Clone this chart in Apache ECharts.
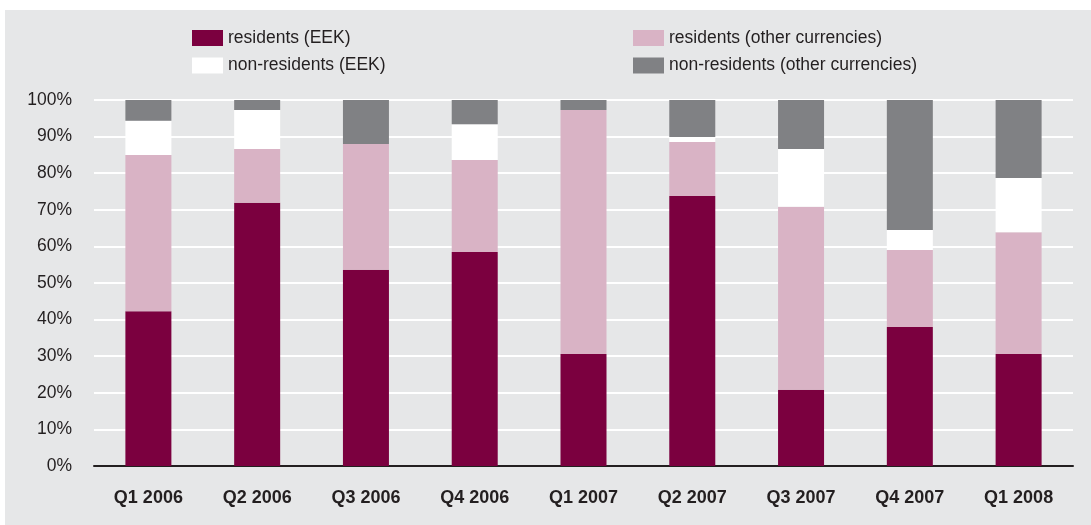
<!DOCTYPE html>
<html>
<head>
<meta charset="utf-8">
<script src="https://cdn.jsdelivr.net/npm/echarts@6/dist/echarts.min.js"></script>
<style>
  html, body { margin: 0; padding: 0; background: #ffffff; }
  #chart { position: absolute; left: 5px; top: 10px; width: 1086px; height: 515px; }
</style>
</head>
<body>
<div id="chart"></div>
<script>
const categories = ['Q1 2006', 'Q2 2006', 'Q3 2006', 'Q4 2006', 'Q1 2007', 'Q2 2007', 'Q3 2007', 'Q4 2007', 'Q1 2008'];
const residentsEEK   = [42.3, 71.9, 53.6, 58.5, 30.6, 73.8, 20.8, 38.0, 30.6];
const residentsOther = [42.7, 14.7, 34.4, 25.1, 66.7, 14.7, 50.0, 21.0, 33.3];
const nonResEEK      = [9.3, 10.7, 0.0, 9.8, 0.0, 1.4, 15.8, 5.5, 14.8];
const nonResOther    = [5.7, 2.7, 12.0, 6.6, 2.7, 10.1, 13.4, 35.5, 21.3];
const seriesNames = ['residents (EEK)', 'residents (other currencies)', 'non-residents (EEK)', 'non-residents (other currencies)'];

const FONT = '"Liberation Sans", Arial, Helvetica, sans-serif';
const chart = echarts.init(document.getElementById('chart'), null, { renderer: 'canvas' });

function bar(name, data, color) {
  return {
    name: name, type: 'bar', stack: 'total', data: data, barWidth: 46,
    itemStyle: { color: color }, emphasis: { disabled: true }
  };
}

const legendText = { fontSize: 17.5, color: '#231f20', fontFamily: FONT };

chart.setOption({
  backgroundColor: '#e6e7e8',
  animation: false,
  textStyle: { fontFamily: FONT },
  legend: [
    {
      left: 182, top: 14, orient: 'vertical', itemWidth: 31, itemHeight: 16, itemGap: 9.5,
      icon: 'rect', selectedMode: false, textStyle: legendText,
      data: [seriesNames[0], seriesNames[2]]
    },
    {
      left: 623, top: 14, orient: 'vertical', itemWidth: 31, itemHeight: 16, itemGap: 9.5,
      icon: 'rect', selectedMode: false, textStyle: legendText,
      data: [seriesNames[1], seriesNames[3]]
    }
  ],
  grid: { left: 89, right: 18, top: 90, bottom: 59, containLabel: false },
  xAxis: {
    type: 'category', data: categories,
    axisLine: { show: true, lineStyle: { color: '#231f20', width: 2 } },
    axisTick: { show: false },
    axisLabel: { fontSize: 18, fontWeight: 'bold', color: '#231f20', margin: 23, fontFamily: FONT }
  },
  yAxis: {
    type: 'value', min: 0, max: 100, interval: 10,
    axisLine: { show: false }, axisTick: { show: false },
    splitLine: { show: true, lineStyle: { color: '#ffffff', width: 2 } },
    axisLabel: { formatter: '{value}%', fontSize: 17.5, color: '#231f20', margin: 22, fontFamily: FONT }
  },
  series: [
    bar(seriesNames[0], residentsEEK, '#7b003f'),
    bar(seriesNames[1], residentsOther, '#d9b3c5'),
    bar(seriesNames[2], nonResEEK, '#ffffff'),
    bar(seriesNames[3], nonResOther, '#808184')
  ]
});
</script>
</body>
</html>
